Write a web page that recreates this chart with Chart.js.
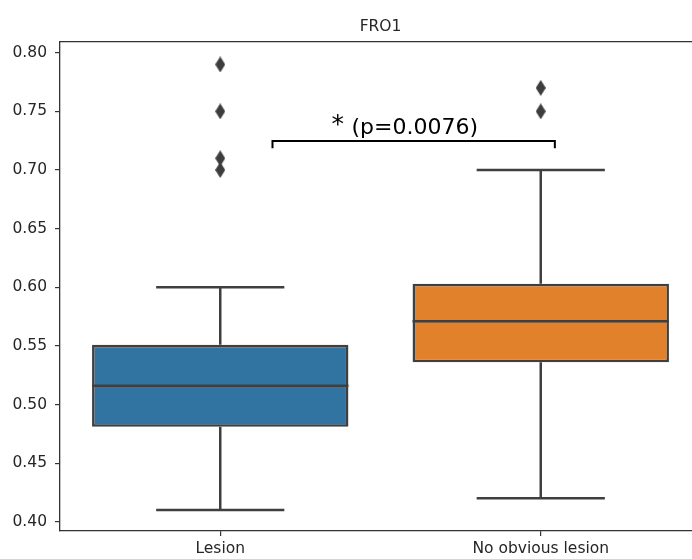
<!DOCTYPE html>
<html>
<head>
<meta charset="utf-8">
<script src="https://cdn.jsdelivr.net/npm/chart.js@4.4.1/dist/chart.umd.min.js"></script>
<style>
    html, body { margin: 0; padding: 0; background: #fff; overflow: hidden; }
    #wrap { width: 692px; height: 559px; overflow: hidden; }
</style>
</head>
<body>
<div id="wrap"><canvas id="boxChart" width="712" height="559"></canvas></div>
<script>
// box plot values
const categories = ['Lesion', 'No obvious lesion'];
const whiskerLow = [0.41, 0.42];
const q1 = [0.481, 0.536];
const medians = [0.516, 0.571];
const q3 = [0.551, 0.603];
const whiskerHigh = [0.60, 0.70];
const outliersLesion = [0.79, 0.75, 0.71, 0.70];
const outliersNoLesion = [0.77, 0.75];
const yTicks = [0.40, 0.45, 0.50, 0.55, 0.60, 0.65, 0.70, 0.75, 0.80];
const boxColors = ['#3274a1', '#e1812c'];
const titleText = 'FRO1';
const pText = '(p=0.0076)';

const lineGray = '#3f3f3f';
const axisGray = '#333';

// thin diamond marker like matplotlib's 'd'
function diamondMarker() {
    const c = document.createElement('canvas');
    c.width = 10;
    c.height = 16;
    const g = c.getContext('2d');
    g.fillStyle = '#3d3d3d';
    g.beginPath();
    g.moveTo(5, 0);
    g.lineTo(10, 8);
    g.lineTo(5, 16);
    g.lineTo(0, 8);
    g.closePath();
    g.fill();
    return c;
}

// whiskers, caps, medians, top spine, title and the p-value bracket
const boxExtras = {
    id: 'boxExtras',
    afterDatasetsDraw(chart) {
        const ctx = chart.ctx;
        const x = chart.scales.x;
        const y = chart.scales.y;
        const bars = chart.getDatasetMeta(0).data;
        ctx.save();
        ctx.strokeStyle = lineGray;
        ctx.lineWidth = 2.5;
        categories.forEach((c, i) => {
            const cx = x.getPixelForValue(i);
            const half = bars[i].width / 2;
            const cap = half / 2;
            ctx.beginPath();
            ctx.moveTo(cx, y.getPixelForValue(q3[i]));
            ctx.lineTo(cx, y.getPixelForValue(whiskerHigh[i]));
            ctx.moveTo(cx, y.getPixelForValue(q1[i]));
            ctx.lineTo(cx, y.getPixelForValue(whiskerLow[i]));
            ctx.moveTo(cx - cap, y.getPixelForValue(whiskerHigh[i]));
            ctx.lineTo(cx + cap, y.getPixelForValue(whiskerHigh[i]));
            ctx.moveTo(cx - cap, y.getPixelForValue(whiskerLow[i]));
            ctx.lineTo(cx + cap, y.getPixelForValue(whiskerLow[i]));
            ctx.moveTo(cx - half, y.getPixelForValue(medians[i]));
            ctx.lineTo(cx + half, y.getPixelForValue(medians[i]));
            ctx.stroke();
        });

        // top spine
        const area = chart.chartArea;
        ctx.strokeStyle = axisGray;
        ctx.lineWidth = 1.3;
        ctx.beginPath();
        ctx.moveTo(area.left, area.top);
        ctx.lineTo(area.right, area.top);
        ctx.stroke();

        // title centred over the axes
        ctx.fillStyle = '#262626';
        ctx.font = '15.5px "DejaVu Sans"';
        ctx.textAlign = 'center';
        ctx.textBaseline = 'middle';
        ctx.fillText(titleText, (area.left + area.right) / 2, 27);

        // significance bracket
        const bx0 = x.getPixelForValue(0.163);
        const bx1 = x.getPixelForValue(1.044);
        const by = y.getPixelForValue(0.7247);
        const drop = y.getPixelForValue(0.7185);
        ctx.strokeStyle = '#000';
        ctx.lineWidth = 2;
        ctx.beginPath();
        ctx.moveTo(bx0, drop);
        ctx.lineTo(bx0, by);
        ctx.lineTo(bx1, by);
        ctx.lineTo(bx1, drop);
        ctx.stroke();

        ctx.fillStyle = '#000';
        ctx.textBaseline = 'alphabetic';
        ctx.textAlign = 'left';
        const tx = x.getPixelForValue(0.347);
        const ty = y.getPixelForValue(0.7305);
        ctx.font = '25px "DejaVu Sans"';
        ctx.fillText('*', tx, ty - 2);
        ctx.font = '22px "DejaVu Sans"';
        ctx.fillText(pText, tx + 20, ty);
        ctx.restore();
    }
};

function createBoxChart() {
    const ctx = document.getElementById('boxChart').getContext('2d');
    const marker = diamondMarker();
    Chart.defaults.font.family = '"DejaVu Sans", sans-serif';
    Chart.defaults.color = '#262626';
    new Chart(ctx, {
        type: 'bar',
        data: {
            labels: categories,
            datasets: [{
                label: 'IQR',
                data: categories.map((c, i) => [q1[i], q3[i]]),
                backgroundColor: boxColors,
                borderColor: lineGray,
                borderWidth: 2.5,
                borderSkipped: false,
                barPercentage: 0.8,
                categoryPercentage: 1.0,
            }, {
                type: 'line',
                label: 'outliers',
                data: outliersLesion.map(v => ({ x: categories[0], y: v }))
                    .concat(outliersNoLesion.map(v => ({ x: categories[1], y: v }))),
                showLine: false,
                pointStyle: marker,
                pointRadius: 6,
            }],
        },
        options: {
            responsive: false,
            animation: false,
            layout: {
                padding: { left: 0, right: 11, top: 41.7, bottom: 0 },
            },
            plugins: {
                legend: { display: false },
                tooltip: { enabled: false },
                title: { display: false },
            },
            scales: {
                x: {
                    offset: true,
                    grid: {
                        display: true,
                        offset: false,
                        drawOnChartArea: false,
                        tickLength: 5,
                        color: axisGray,
                        lineWidth: 1.2,
                    },
                    border: { display: true, color: axisGray, width: 1.3 },
                    ticks: { font: { size: 15.5 }, padding: 4, maxRotation: 0 },
                    afterFit(scale) { scale.height = 28; },
                },
                y: {
                    min: 0.3921,
                    max: 0.8094,
                    grid: {
                        display: true,
                        drawOnChartArea: false,
                        tickLength: 5,
                        color: axisGray,
                        lineWidth: 1.2,
                    },
                    border: { display: true, color: axisGray, width: 1.3 },
                    ticks: {
                        font: { size: 15.5 },
                        padding: 8,
                        callback: v => Number(v).toFixed(2),
                    },
                    afterBuildTicks(scale) {
                        scale.ticks = yTicks.map(v => ({ value: v }));
                    },
                    afterFit(scale) { scale.width = 60; },
                },
            },
        },
        plugins: [boxExtras],
    });
}

document.addEventListener('DOMContentLoaded', () => {
    createBoxChart();
});
</script>
</body>
</html>
